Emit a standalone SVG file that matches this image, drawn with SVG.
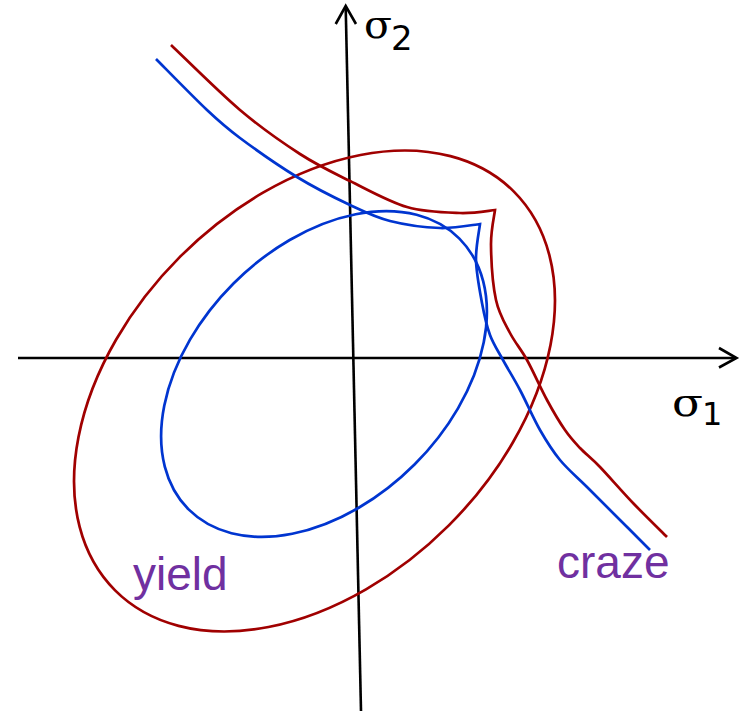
<svg xmlns="http://www.w3.org/2000/svg" width="745" height="714" viewBox="0 0 745 714">
  <style>
    .axis { stroke: #000; stroke-width: 2.6; fill: none; stroke-linecap: butt; }
    .red { stroke: #A00000; stroke-width: 2.7; fill: none; stroke-linejoin: miter; }
    .blue { stroke: #0035D0; stroke-width: 2.7; fill: none; stroke-linejoin: miter; }
    .sig { font-family: "DejaVu Serif", "Liberation Serif", serif; fill: #000; }
    .sub { font-family: "DejaVu Sans", "Liberation Sans", sans-serif; fill: #000; }
    .lbl { font-family: "Liberation Sans", "DejaVu Sans", sans-serif; fill: #7030A0; font-size: 46px; }
  </style>
  <rect width="745" height="714" fill="#fff"/>

  <g id="axes">
    <line class="axis" x1="18" y1="358" x2="736" y2="358"/>
    <polyline class="axis" points="719,348 736.5,358 719,367.5"/>
    <line class="axis" x1="345.7" y1="7" x2="361" y2="711"/>
    <polyline class="axis" points="335.7,24 345.7,6 356,24"/>
  </g>

  <g id="yield-curves">
    <ellipse class="red" cx="314.5" cy="391" rx="282" ry="190" transform="rotate(-45 314.5 391)"/>
    <ellipse class="blue" cx="324" cy="374" rx="191.5" ry="128" transform="rotate(-45 324 374)"/>
  </g>

  <g id="craze-curves">
    <path class="red" d="M171,45 C182.5,55.8 218.5,91.8 240,110 C261.5,128.2 281.7,142.2 300,154 C318.3,165.8 332.2,172.2 350,181 C367.8,189.8 388.7,201.7 407,207 C425.3,212.3 445.3,212.5 460,213 C474.7,213.5 489.2,210.5 495,210 C494.3,215.8 490.8,230 491,245 C491.2,260 492.8,285.3 496,300 C499.2,314.7 504.8,323 510,333 C515.2,343 520.8,348.8 527,360 C533.2,371.2 540.7,388.3 547,400 C553.3,411.7 559.2,421.7 565,430 C570.5,438 574.2,441.8 580,448 C585.8,454.2 591.2,457.8 600,467 C608.8,476.2 621.8,491.3 633,503 C644.2,514.7 661.3,531.3 667,537"/>
    <path class="blue" d="M156,59 C164.5,67.5 193,96.8 207,110 C221,123.2 225,126.8 240,138 C255,149.2 278.7,165.8 297,177 C315.3,188.2 334.5,197.7 350,205 C365.5,212.3 375,217.2 390,221 C405,224.8 425,227.5 440,228 C455,228.5 473.3,224.7 480,224 C479.3,230 475.7,246.8 476,260 C476.3,273.2 479.7,290.5 482,303 C484.3,315.5 486.5,325.5 490,335 C493.5,344.5 498,350.8 503,360 C508,369.2 513.8,378.3 520,390 C526.2,401.7 533.3,418.3 540,430 C546.7,441.7 552.2,450.5 560,460 C567.8,469.5 577.5,477.5 587,487 C596.5,496.5 606.5,506.5 617,517 C627.5,527.5 644.5,544.5 650,550"/>
  </g>

  <g id="label-sigma2">
    <text class="sig" x="364" y="37.5" font-size="40" textLength="28" lengthAdjust="spacingAndGlyphs">σ</text>
    <text class="sub" x="391" y="50" font-size="34">2</text>
  </g>
  <g id="label-sigma1">
    <text class="sig" x="672" y="415.5" font-size="40" textLength="31" lengthAdjust="spacingAndGlyphs">σ</text>
    <text class="sub" x="702" y="425" font-size="32">1</text>
  </g>
  <g id="label-yield">
    <text class="lbl" x="133" y="590">yield</text>
  </g>
  <g id="label-craze">
    <text class="lbl" x="557" y="578">craze</text>
  </g>
</svg>
